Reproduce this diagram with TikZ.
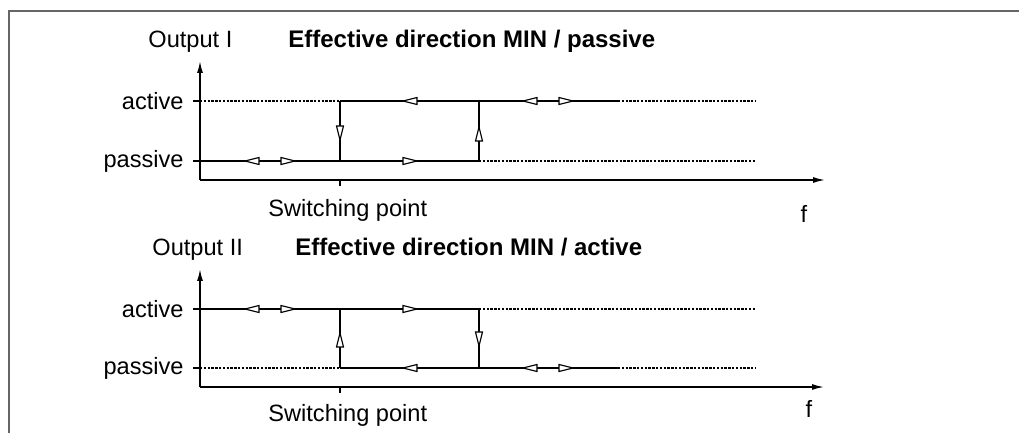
\documentclass[tikz,border=0pt]{standalone}
\usepackage{fontspec}
\setmainfont{Liberation Sans}
\usetikzlibrary{arrows.meta}
\tikzset{
  frame/.style={draw=black!60, line width=1pt},
  axis/.style={line width=0.75pt, -{Latex[length=6pt,width=3pt]}},
  solidline/.style={line width=0.75pt},
  dotline/.style={line width=0.6pt, dash pattern=on 1.2pt off 0.7pt},
  tri/.style={draw, fill=white, line width=0.55pt, line join=miter},
  lbl/.style={inner sep=0pt, font=\fontsize{11.8}{14}\selectfont},
  ttl/.style={inner sep=0pt, font=\fontsize{12}{14}\selectfont\bfseries},
}
\newcommand\arrL[2]{\draw[tri] (#1,#2) -- ++(14,-3.5) -- ++(0,7) -- cycle;}
\newcommand\arrR[2]{\draw[tri] (#1,#2) -- ++(-14,-3.5) -- ++(0,7) -- cycle;}
\newcommand\arrU[2]{\draw[tri] (#1,#2) -- ++(-3.5,14) -- ++(7,0) -- cycle;}
\newcommand\arrD[2]{\draw[tri] (#1,#2) -- ++(-3.5,-14) -- ++(7,0) -- cycle;}
\begin{document}
\begin{tikzpicture}[x=0.5pt,y=-0.5pt]
\useasboundingbox (0,0) rectangle (1019,433);
% frame
\draw[frame] (9,433) -- (9,11) -- (1019,11);

% ================= top chart =================
\coordinate (o1) at (200,180);
\coordinate (y1) at (200,61);
\coordinate (x1) at (825,180);
\draw[axis] (o1) -- (y1);
\draw[axis] (o1) -- (x1);
\draw[solidline] (340,180) -- (340,186);
\node[lbl, anchor=base west] (out1) at (148,48) {Output I};
\node[ttl, anchor=base west] (ttl1) at (288,48) {Effective direction MIN / passive};
\node[lbl, anchor=east] (act1) at (184,101) {active};
\node[lbl, anchor=east] (pas1) at (184,161) {passive};
\node[lbl, anchor=base west] (sw1) at (268,217) {Switching point};
\node[lbl, anchor=base] (f1) at (804,223) {f};
% lines
\draw[solidline] (193,161) -- (479,161);
\draw[dotline] (479,161) -- (755,161);
\draw[solidline] (193,101) -- (200,101);
\draw[dotline] (200,101) -- (340,101);
\draw[solidline] (340,101) -- (618,101);
\draw[dotline] (618,101) -- (755,101);
\draw[solidline] (340,101) -- (340,161);
\draw[solidline] (479,101) -- (479,161);
% arrows
\arrL{245}{161}
\arrR{295}{161}
\arrR{417}{161}
\arrL{403}{101}
\arrL{523}{101}
\arrR{573}{101}
\arrD{340}{140}
\arrU{479}{127}

% ================= bottom chart =================
\coordinate (o2) at (200,387);
\coordinate (y2) at (200,269);
\coordinate (x2) at (824,387);
\draw[axis] (o2) -- (y2);
\draw[axis] (o2) -- (x2);
\draw[solidline] (340,387) -- (340,393);
\node[lbl, anchor=base west] (out2) at (152,256) {Output II};
\node[ttl, anchor=base west] (ttl2) at (295,256) {Effective direction MIN / active};
\node[lbl, anchor=east] (act2) at (184,309) {active};
\node[lbl, anchor=east] (pas2) at (184,368) {passive};
\node[lbl, anchor=base west] (sw2) at (268,422) {Switching point};
\node[lbl, anchor=base] (f2) at (809,417) {f};
% lines
\draw[solidline] (193,309) -- (479,309);
\draw[dotline] (479,309) -- (755,309);
\draw[solidline] (193,368) -- (200,368);
\draw[dotline] (200,368) -- (340,368);
\draw[solidline] (340,368) -- (618,368);
\draw[dotline] (618,368) -- (755,368);
\draw[solidline] (340,309) -- (340,368);
\draw[solidline] (479,309) -- (479,368);
% arrows
\arrL{245}{309}
\arrR{295}{309}
\arrR{417}{309}
\arrL{403}{368}
\arrL{523}{368}
\arrR{573}{368}
\arrU{340}{333}
\arrD{479}{346}
\end{tikzpicture}
\end{document}
